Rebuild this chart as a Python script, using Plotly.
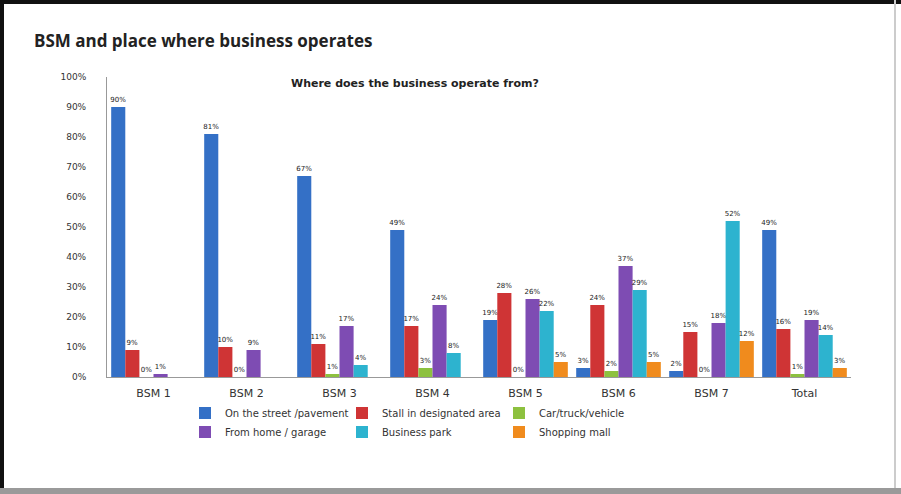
import plotly.graph_objects as go

# Share of businesses by place of operation, per BSM segment (%)
categories = ["BSM 1", "BSM 2", "BSM 3", "BSM 4", "BSM 5", "BSM 6", "BSM 7", "Total"]
street = [90, 81, 67, 49, 19, 3, 2, 49]
stall = [9, 10, 11, 17, 28, 24, 15, 16]
vehicle = [0, 0, 1, 3, 0, 2, 0, 1]
home = [1, 9, 17, 24, 26, 37, 18, 19]
business_park = [None, None, 4, 8, 22, 29, 52, 14]
mall = [None, None, None, None, 5, 5, 12, 3]

series = [
    ("On the street /pavement", street, "#3470c6", "legend"),
    ("Stall in designated area", stall, "#cf3435", "legend"),
    ("Car/truck/vehicle", vehicle, "#8dc13f", "legend"),
    ("From home / garage", home, "#7e4cb3", "legend2"),
    ("Business park", business_park, "#2db3cf", "legend2"),
    ("Shopping mall", mall, "#f08b1d", "legend2"),
]

fig = go.Figure()
for name, vals, color, leg in series:
    fig.add_trace(go.Bar(
        name=name,
        x=categories,
        y=vals,
        marker=dict(color=color, line=dict(width=0)),
        text=[None if v is None else f"{v}%" for v in vals],
        textposition="outside",
        constraintext="none",
        cliponaxis=False,
        textfont=dict(family="DejaVu Sans", size=7, color="#222222"),
        legend=leg,
    ))

# plot area in pixels: x 107..851, y 77..377
L, R, T, B = 107, 50, 77, 117
W, H = 901, 494
pw, ph = W - L - R, H - T - B


def px(x):
    return (x - L) / pw


def py(y):
    return (H - B - y) / ph


legend_common = dict(
    orientation="h",
    entrywidth=112,
    entrywidthmode="pixels",
    xanchor="left",
    yanchor="middle",
    font=dict(family="DejaVu Sans", size=10, color="#333333"),
    bgcolor="rgba(0,0,0,0)",
    tracegroupgap=0,
    traceorder="normal",
)

fig.update_layout(
    width=W,
    height=H,
    margin=dict(l=L, r=R, t=T, b=B),
    paper_bgcolor="white",
    plot_bgcolor="white",
    barmode="group",
    bargap=0.09,
    bargroupgap=0,
    showlegend=True,
    legend=dict(x=px(185), y=py(413), **legend_common),
    legend2=dict(x=px(185), y=py(432), **legend_common),
    xaxis=dict(
        showline=True,
        linecolor="#999999",
        linewidth=1,
        ticks="",
        showgrid=False,
        ticklabelstandoff=6,
        tickfont=dict(family="DejaVu Sans", size=11, color="#333333"),
    ),
    yaxis=dict(
        range=[0, 100],
        dtick=10,
        ticksuffix="%",
        showline=True,
        linecolor="#999999",
        linewidth=1,
        ticks="",
        showgrid=False,
        zeroline=False,
        ticklabelstandoff=18,
        tickfont=dict(family="DejaVu Sans", size=9, color="#333333"),
    ),
    annotations=[
        dict(
            text="<b>BSM and place where business operates</b>",
            xref="paper", yref="paper",
            x=px(32), y=py(40),
            xanchor="left", yanchor="middle",
            showarrow=False,
            font=dict(family="Open Sans", size=17, color="#222222"),
        ),
        dict(
            text="<b>Where does the business operate from?</b>",
            xref="paper", yref="paper",
            x=px(415), y=py(83),
            xanchor="center", yanchor="middle",
            showarrow=False,
            font=dict(family="DejaVu Sans", size=11, color="#222222"),
        ),
    ],
    shapes=[
        # outer frame of the chart image
        dict(type="line", xref="paper", yref="paper",
             x0=px(0), x1=px(W), y0=py(2), y1=py(2),
             line=dict(color="#111111", width=4)),
        dict(type="line", xref="paper", yref="paper",
             x0=px(2), x1=px(2), y0=py(0), y1=py(H),
             line=dict(color="#111111", width=4)),
        dict(type="line", xref="paper", yref="paper",
             x0=px(895), x1=px(895), y0=py(0), y1=py(488),
             line=dict(color="#cccccc", width=2)),
        dict(type="rect", xref="paper", yref="paper",
             x0=px(0), x1=px(W), y0=py(488), y1=py(H),
             fillcolor="#9a9a9a", line=dict(width=0)),
    ],
)

fig.write_html("out.html")
